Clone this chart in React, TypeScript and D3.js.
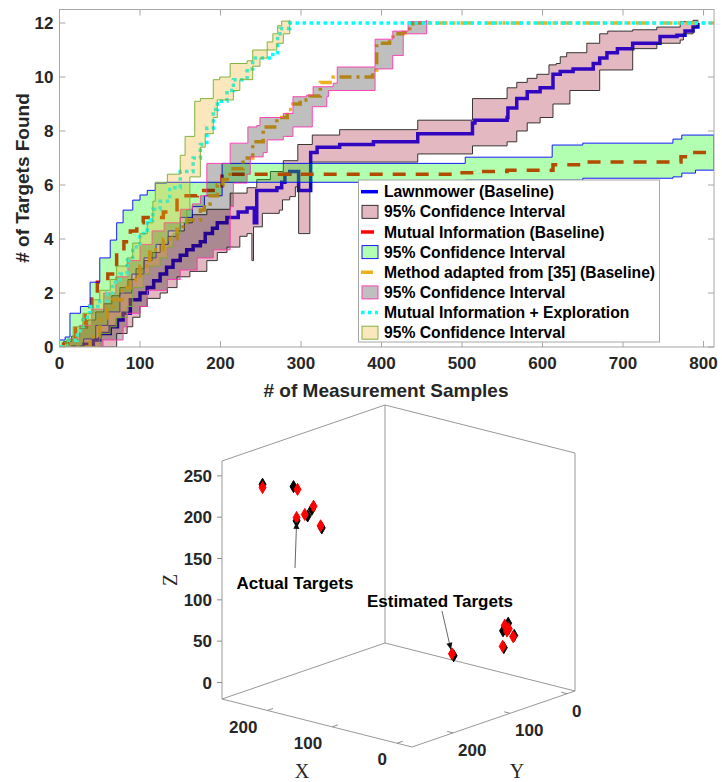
import { useEffect, useRef } from 'react';
import * as d3 from 'd3';

type Pt = [number, number];

// ---------- top panel: # of targets found vs. # of measurement samples ([sample, targets], step-after)
const lawnMean: Pt[] = [[0, 0], [19, 0], [30, 0.1], [42, 0.26], [50, 0.5], [63, 0.75], [72, 1.0], [79, 1.25], [88, 1.75], [100, 2.0], [109, 2.2], [117, 2.45], [125, 2.7], [133, 2.95], [141, 3.2], [150, 3.4], [158, 3.6], [166, 3.75], [175, 3.9], [181, 4.2], [190, 4.4], [196, 4.6], [208, 4.8], [222, 5.0], [233, 5.15], [242, 4.6], [245, 5.8], [270, 5.9], [276, 6.1], [280, 6.4], [286, 6.5], [297, 5.8], [312, 7.2], [320, 7.4], [348, 7.5], [390, 7.6], [445, 7.9], [513, 8.3], [516, 8.4], [556, 8.5], [557, 8.85], [568, 9.2], [581, 9.45], [597, 9.6], [613, 10.1], [622, 10.2], [638, 10.3], [663, 10.5], [671, 10.7], [680, 10.9], [693, 11.05], [712, 11.25], [746, 11.5], [767, 11.55], [777, 11.7], [787, 11.85], [793, 12]];
const lawnHi: Pt[] = [[0, 0], [5, 0.2], [15, 0.4], [25, 0.7], [35, 1.0], [45, 1.3], [55, 1.6], [65, 1.9], [75, 2.2], [85, 2.5], [95, 2.9], [105, 3.2], [115, 3.5], [125, 3.8], [135, 4.1], [145, 4.3], [155, 4.6], [165, 4.9], [183, 5.1], [212, 5.7], [233, 5.9], [245, 6.2], [262, 6.5], [278, 6.9], [296, 7.5], [314, 7.85], [348, 8.05], [445, 8.4], [513, 9.2], [556, 9.6], [568, 9.8], [581, 9.95], [593, 10.1], [608, 10.45], [617, 10.5], [622, 10.75], [630, 10.9], [655, 11.25], [671, 11.6], [681, 11.7], [712, 11.75], [742, 11.85], [771, 12.05], [787, 12.1], [793, 12.1]];
const lawnLo: Pt[] = [[0, 0], [65, 0], [71, 0.5], [84, 0.75], [91, 1.1], [100, 1.5], [109, 1.8], [125, 2.0], [134, 2.2], [146, 2.6], [162, 2.8], [183, 3.2], [196, 3.5], [208, 3.7], [224, 4.1], [233, 4.2], [239, 3.2], [241, 4.45], [252, 4.95], [273, 5.07], [277, 5.45], [286, 5.57], [293, 5.93], [297, 4.2], [311, 6.85], [445, 7.15], [513, 7.45], [556, 7.6], [568, 8.0], [581, 8.3], [597, 8.5], [613, 9.0], [634, 9.5], [671, 10.26], [712, 11.05], [742, 11.25], [771, 11.37], [775, 11.6], [787, 11.85], [793, 12]];

const miMean: Pt[] = [[0, 0], [5, 0.1], [10, 0.3], [20, 0.8], [32, 1.5], [40, 2.0], [47, 2.4], [60, 2.7], [66, 2.9], [71, 3.5], [80, 3.9], [88, 4.3], [96, 4.6], [104, 4.8], [129, 5.0], [146, 5.6], [171, 5.8], [202, 6.4], [497, 6.45], [522, 6.5], [556, 6.55], [613, 6.75], [647, 6.85], [772, 7.05], [787, 7.2], [813, 7.2]];
const miHi: Pt[] = [[0, 0.26], [7, 0.37], [13, 1.25], [26, 1.5], [38, 2.4], [50, 3.3], [63, 3.96], [71, 4.6], [79, 5.07], [91, 5.44], [100, 5.63], [109, 5.8], [119, 6.07], [133, 6.1], [202, 6.8], [504, 7.03], [612, 7.48], [650, 7.55], [762, 7.7], [773, 7.85], [813, 7.85]];
const miLo: Pt[] = [[0, 0], [20, 0], [30, 0.3], [45, 0.8], [60, 1.3], [75, 2.0], [90, 2.7], [105, 3.3], [120, 3.8], [135, 4.3], [150, 4.8], [165, 5.2], [180, 5.6], [202, 6.1], [504, 6.18], [650, 6.25], [762, 6.3], [773, 6.44], [790, 6.55], [813, 6.55]];

const adaptMean: Pt[] = [[0, 0], [25, 0], [38, 0.37], [50, 1.0], [59, 1.5], [66, 1.75], [78, 2.2], [88, 2.5], [100, 3.0], [112, 3.6], [129, 4.0], [146, 4.45], [158, 4.7], [175, 5.07], [180, 5.3], [187, 5.6], [196, 6.0], [203, 6.2], [212, 6.6], [228, 7.0], [240, 7.6], [253, 8.15], [270, 8.5], [283, 8.8], [290, 9.0], [299, 9.15], [311, 9.3], [324, 9.8], [340, 10.0], [389, 10.26], [394, 11.25], [410, 11.3], [414, 11.6], [427, 11.65], [435, 11.85], [439, 12], [813, 12]];
const adaptHi: Pt[] = [[0, 0], [10, 0.3], [25, 0.8], [40, 1.4], [55, 2.0], [70, 2.6], [85, 3.2], [100, 3.8], [115, 4.3], [130, 4.6], [150, 5.1], [165, 5.3], [175, 5.6], [183, 6.8], [212, 7.55], [234, 8.15], [245, 8.2], [249, 8.5], [278, 8.65], [290, 9.27], [307, 9.33], [315, 9.64], [340, 9.77], [345, 10.37], [392, 11.4], [414, 11.7], [433, 12.05], [456, 12.1]];
const adaptLo: Pt[] = [[0, 0], [54, 0.26], [79, 0.75], [84, 1.25], [100, 1.5], [109, 2.1], [134, 2.5], [150, 2.85], [171, 3.3], [191, 3.6], [212, 5.2], [216, 6.07], [233, 6.4], [237, 7.04], [253, 7.2], [258, 7.67], [278, 7.8], [290, 8.15], [314, 8.9], [332, 9.27], [334, 9.5], [392, 10.3], [414, 10.8], [427, 11.6], [456, 12]];

const mieMean: Pt[] = [[0, 0], [9, 0.25], [22, 0.6], [29, 1.1], [38, 1.5], [50, 1.7], [59, 2.0], [66, 2.4], [75, 2.7], [84, 3.2], [91, 3.7], [100, 4.2], [109, 4.7], [116, 5.1], [125, 5.4], [137, 5.9], [150, 6.5], [166, 7.0], [175, 7.5], [183, 8.1], [191, 8.8], [196, 9.1], [208, 9.5], [216, 9.9], [233, 10.3], [240, 10.7], [265, 10.9], [271, 11.6], [274, 11.8], [286, 12], [813, 12]];
const mieHi: Pt[] = [[0, 0], [9, 0.26], [17, 0.75], [29, 1.25], [42, 1.75], [50, 2.1], [63, 2.5], [71, 3.0], [84, 3.3], [91, 3.85], [100, 4.2], [109, 4.6], [116, 5.4], [119, 6.1], [134, 6.4], [150, 7.1], [156, 7.8], [168, 9.1], [175, 9.2], [191, 9.9], [199, 10.0], [212, 10.5], [233, 10.6], [240, 11.0], [258, 11.3], [265, 11.6], [271, 11.9], [276, 12.07], [286, 12.1]];
const mieLo: Pt[] = [[0, 0], [22, 0], [50, 0.5], [63, 0.75], [71, 1.1], [84, 1.5], [91, 2.2], [104, 2.7], [112, 3.0], [125, 3.3], [134, 3.7], [141, 4.2], [150, 4.6], [158, 5.07], [162, 6.3], [175, 7.4], [181, 7.9], [191, 8.5], [196, 9.15], [216, 9.5], [224, 9.9], [240, 10.4], [249, 10.7], [258, 11.0], [270, 11.25], [278, 11.6], [286, 12]];

const xTicks = [0, 100, 200, 300, 400, 500, 600, 700, 800];
const yTicks = [0, 2, 4, 6, 8, 10, 12];
const legendLabels = [
  'Lawnmower (Baseline)',
  '95% Confidence Interval',
  'Mutual Information (Baseline)',
  '95% Confidence Interval',
  'Method adapted from [35] (Baseline)',
  '95% Confidence Interval',
  'Mutual Information + Exploration',
  '95% Confidence Interval',
];

// ---------- bottom panel: target positions in 3D
const actualX = [240, 230, 220, 210, 200, 190, 20, 15, 15, 10, 20, 15];
const actualY = [235, 192, 198, 190, 194, 188, 150, 60, 69, 55, 62, 64];
const actualZ = [237, 226, 188, 194, 205, 183, 53, 72, 65, 57, 42, 69];
const estX = [240, 230, 220, 210, 200, 190, 20, 20, 15, 15, 10, 15];
const estY = [235, 185, 198, 195, 191, 190, 153, 64, 66, 59, 57, 62];
const estZ = [233, 221, 192, 197, 208, 186, 56, 44, 71, 65, 56, 63];
const xyTicks3d = [0, 100, 200];
const zTicks3d = [0, 50, 100, 150, 200, 250];

const SANS = "'Liberation Sans', Arial, sans-serif";
const SERIF = "'Liberation Serif', 'Times New Roman', serif";
const TXT = '#262626';
const AX = '#a6a6a6';

// turn step points into polygon corners
function stepCorners( pts: Pt[] ): Pt[] {
  const out: Pt[] = [ pts[ 0 ] ];
  for ( let i = 1; i < pts.length; i++ ) {
    out.push( [ pts[ i ][ 0 ], pts[ i - 1 ][ 1 ] ] );
    out.push( pts[ i ] );
  }
  return out;
}

export default function App() {
  const svgRef = useRef<SVGSVGElement>( null );

  useEffect( () => {
    if ( !svgRef.current ) return;
    const svg = d3.select( svgRef.current );
    svg.selectAll( '*' ).remove();

    // ================= top chart =================
    const x = d3.scaleLinear().domain( [ 0, 813 ] ).range( [ 59.5, 714 ] );
    const y = d3.scaleLinear().domain( [ 0, 12.5 ] ).range( [ 347, 9.5 ] );

    svg.append( 'defs' ).append( 'clipPath' ).attr( 'id', 'plotClip' )
      .append( 'rect' ).attr( 'x', 59.5 ).attr( 'y', 9.5 ).attr( 'width', 654.5 ).attr( 'height', 337.5 );

    const lin = d3.line<Pt>().x( d => x( d[ 0 ] ) ).y( d => y( d[ 1 ] ) );
    const step = d3.line<Pt>().x( d => x( d[ 0 ] ) ).y( d => y( d[ 1 ] ) ).curve( d3.curveStepAfter );

    const series = [
      { mean: lawnMean, hi: lawnHi, lo: lawnLo, stroke: '#0000ff', dash: 'none', fill: '#a2142f', fo: 0.3, edge: '#222222' },
      { mean: miMean, hi: miHi, lo: miLo, stroke: '#ff0000', dash: '13,10', fill: '#00ff00', fo: 0.3, edge: '#0000ff' },
      { mean: adaptMean, hi: adaptHi, lo: adaptLo, stroke: '#edb120', dash: '12,5,3,5', fill: '#000000', fo: 0.25, edge: '#ff33b0' },
      { mean: mieMean, hi: mieHi, lo: mieLo, stroke: '#00ffff', dash: '3.5,3.5', fill: '#edb120', fo: 0.3, edge: '#77ac30' },
    ];

    const plot = svg.append( 'g' ).attr( 'clip-path', 'url(#plotClip)' );
    series.forEach( s => {
      plot.append( 'path' )
        .attr( 'd', step( s.mean ) )
        .attr( 'fill', 'none' )
        .attr( 'stroke', s.stroke )
        .attr( 'stroke-width', 3.5 )
        .attr( 'stroke-dasharray', s.dash );
      plot.append( 'path' )
        .attr( 'd', lin( [ ...stepCorners( s.hi ), ...stepCorners( s.lo ).reverse() ] ) + 'Z' )
        .attr( 'fill', s.fill )
        .attr( 'fill-opacity', s.fo )
        .attr( 'stroke', s.edge )
        .attr( 'stroke-width', 0.9 );
    } );

    // axes box + ticks
    const ax = svg.append( 'g' );
    ax.append( 'rect' ).attr( 'x', 59.5 ).attr( 'y', 9.5 ).attr( 'width', 654.5 ).attr( 'height', 337.5 )
      .attr( 'fill', 'none' ).attr( 'stroke', AX ).attr( 'stroke-width', 1 );
    xTicks.forEach( t => {
      ax.append( 'line' ).attr( 'x1', x( t ) ).attr( 'x2', x( t ) ).attr( 'y1', 347 ).attr( 'y2', 341 ).attr( 'stroke', AX );
      ax.append( 'line' ).attr( 'x1', x( t ) ).attr( 'x2', x( t ) ).attr( 'y1', 9.5 ).attr( 'y2', 15.5 ).attr( 'stroke', AX );
      ax.append( 'text' ).attr( 'x', x( t ) ).attr( 'y', 369 ).attr( 'text-anchor', 'middle' )
        .style( 'font', `bold 17px ${ SANS }` ).attr( 'fill', TXT ).text( t );
    } );
    yTicks.forEach( t => {
      ax.append( 'line' ).attr( 'x1', 59.5 ).attr( 'x2', 65.5 ).attr( 'y1', y( t ) ).attr( 'y2', y( t ) ).attr( 'stroke', AX );
      ax.append( 'line' ).attr( 'x1', 714 ).attr( 'x2', 708 ).attr( 'y1', y( t ) ).attr( 'y2', y( t ) ).attr( 'stroke', AX );
      ax.append( 'text' ).attr( 'x', 53.5 ).attr( 'y', y( t ) ).attr( 'dy', '0.36em' ).attr( 'text-anchor', 'end' )
        .style( 'font', `bold 17px ${ SANS }` ).attr( 'fill', TXT ).text( t );
    } );
    ax.append( 'text' ).attr( 'x', 386 ).attr( 'y', 397 ).attr( 'text-anchor', 'middle' )
      .style( 'font', `bold 19px ${ SANS }` ).attr( 'fill', TXT ).text( '# of Measurement Samples' );
    ax.append( 'text' ).attr( 'transform', 'translate(29,178) rotate(-90)' ).attr( 'text-anchor', 'middle' )
      .style( 'font', `bold 19px ${ SANS }` ).attr( 'fill', TXT ).text( '# of Targets Found' );

    // legend
    const lg = svg.append( 'g' );
    lg.append( 'rect' ).attr( 'x', 358.5 ).attr( 'y', 180 ).attr( 'width', 301 ).attr( 'height', 162 )
      .attr( 'fill', '#fff' ).attr( 'stroke', AX );
    legendLabels.forEach( ( label, i ) => {
      const cy = 191.7 + i * 20.14;
      const s = series[ Math.floor( i / 2 ) ];
      if ( i % 2 === 0 ) {
        lg.append( 'line' ).attr( 'x1', 361 ).attr( 'x2', 378 ).attr( 'y1', cy ).attr( 'y2', cy )
          .attr( 'stroke', s.stroke ).attr( 'stroke-width', 3.5 ).attr( 'stroke-dasharray', s.dash );
      } else {
        lg.append( 'rect' ).attr( 'x', 362 ).attr( 'y', cy - 6.5 ).attr( 'width', 16 ).attr( 'height', 13 )
          .attr( 'fill', s.fill ).attr( 'fill-opacity', s.fo ).attr( 'stroke', s.edge ).attr( 'stroke-width', 0.9 );
      }
      lg.append( 'text' ).attr( 'x', 384 ).attr( 'y', cy ).attr( 'dy', '0.36em' )
        .style( 'font', `bold 15.7px ${ SANS }` ).attr( 'fill', '#000' ).text( label );
    } );

    // ================= bottom 3D chart =================
    const sx = d3.scaleLinear().domain( [ -23, 270 ] ).range( [ 0, 1 ] );
    const sy = d3.scaleLinear().domain( [ -14, 272 ] ).range( [ 0, 1 ] );
    const sz = d3.scaleLinear().domain( [ -20, 268 ] ).range( [ 0, 1 ] );
    const origin: Pt = [ 575, 691 ];
    const vX: Pt = [ -190, -48 ];
    const vY: Pt = [ -163, 56 ];
    const vZ: Pt = [ 0, -238 ];
    const proj = ( X: number, Y: number, Z: number ): Pt => {
      const a = sx( X ), b = sy( Y ), c = sz( Z );
      return [ origin[ 0 ] + a * vX[ 0 ] + b * vY[ 0 ] + c * vZ[ 0 ], origin[ 1 ] + a * vX[ 1 ] + b * vY[ 1 ] + c * vZ[ 1 ] ];
    };
    const [ x0, x1 ] = sx.domain();
    const [ y0, y1 ] = sy.domain();
    const [ z0, z1 ] = sz.domain();
    const edges: [ number[], number[] ][] = [
      [ [ x1, y1, z0 ], [ x1, y1, z1 ] ],
      [ [ x1, y0, z0 ], [ x1, y0, z1 ] ],
      [ [ x0, y0, z0 ], [ x0, y0, z1 ] ],
      [ [ x1, y1, z1 ], [ x1, y0, z1 ] ],
      [ [ x1, y0, z1 ], [ x0, y0, z1 ] ],
      [ [ x1, y1, z0 ], [ x1, y0, z0 ] ],
      [ [ x1, y0, z0 ], [ x0, y0, z0 ] ],
      [ [ x1, y1, z0 ], [ x0, y1, z0 ] ],
      [ [ x0, y1, z0 ], [ x0, y0, z0 ] ],
    ];
    const g3 = svg.append( 'g' );
    edges.forEach( ( [ p, q ] ) => {
      const a = proj( p[ 0 ], p[ 1 ], p[ 2 ] ), b = proj( q[ 0 ], q[ 1 ], q[ 2 ] );
      g3.append( 'line' ).attr( 'x1', a[ 0 ] ).attr( 'y1', a[ 1 ] ).attr( 'x2', b[ 0 ] ).attr( 'y2', b[ 1 ] )
        .attr( 'stroke', '#8c8c8c' ).attr( 'stroke-width', 0.9 );
    } );

    // X ticks along front-left edge
    xyTicks3d.forEach( t => {
      const p = proj( t, y1, z0 );
      g3.append( 'line' ).attr( 'x1', p[ 0 ] ).attr( 'y1', p[ 1 ] ).attr( 'x2', p[ 0 ] + 5.7 ).attr( 'y2', p[ 1 ] - 2 )
        .attr( 'stroke', '#8c8c8c' );
      g3.append( 'text' ).attr( 'x', p[ 0 ] - 10 ).attr( 'y', p[ 1 ] + 16 ).attr( 'dy', '0.36em' ).attr( 'text-anchor', 'end' )
        .style( 'font', `bold 17px ${ SANS }` ).attr( 'fill', TXT ).text( t );
    } );
    // Y ticks along front-right edge
    xyTicks3d.forEach( t => {
      const p = proj( x0, t, z0 );
      g3.append( 'line' ).attr( 'x1', p[ 0 ] ).attr( 'y1', p[ 1 ] ).attr( 'x2', p[ 0 ] - 5.8 ).attr( 'y2', p[ 1 ] - 1.5 )
        .attr( 'stroke', '#8c8c8c' );
      g3.append( 'text' ).attr( 'x', p[ 0 ] + 5 ).attr( 'y', p[ 1 ] + 17 ).attr( 'dy', '0.36em' ).attr( 'text-anchor', 'start' )
        .style( 'font', `bold 17px ${ SANS }` ).attr( 'fill', TXT ).text( t );
    } );
    // Z ticks on left vertical
    zTicks3d.forEach( t => {
      const p = proj( x1, y1, t );
      g3.append( 'line' ).attr( 'x1', p[ 0 ] ).attr( 'y1', p[ 1 ] ).attr( 'x2', p[ 0 ] - 5 ).attr( 'y2', p[ 1 ] )
        .attr( 'stroke', '#8c8c8c' );
      g3.append( 'text' ).attr( 'x', p[ 0 ] - 10 ).attr( 'y', p[ 1 ] ).attr( 'dy', '0.36em' ).attr( 'text-anchor', 'end' )
        .style( 'font', `bold 17px ${ SANS }` ).attr( 'fill', TXT ).text( t );
    } );
    g3.append( 'text' ).attr( 'x', 302 ).attr( 'y', 778 ).attr( 'text-anchor', 'middle' )
      .style( 'font', `20px ${ SERIF }` ).attr( 'fill', TXT ).text( 'X' );
    g3.append( 'text' ).attr( 'x', 517 ).attr( 'y', 778 ).attr( 'text-anchor', 'middle' )
      .style( 'font', `20px ${ SERIF }` ).attr( 'fill', TXT ).text( 'Y' );
    g3.append( 'text' ).attr( 'transform', 'translate(170,580) rotate(-90)' ).attr( 'dy', '0.36em' ).attr( 'text-anchor', 'middle' )
      .style( 'font', `20px ${ SERIF }` ).attr( 'fill', TXT ).text( 'Z' );

    // markers
    const diamond = d3.symbol().type( d3.symbolDiamond ).size( 42 )();
    const drawMarkers = ( X: number[], Y: number[], Z: number[], color: string ) => {
      X.forEach( ( xv, i ) => {
        const p = proj( xv, Y[ i ], Z[ i ] );
        g3.append( 'path' ).attr( 'd', diamond ).attr( 'transform', `translate(${ p[ 0 ] },${ p[ 1 ] })` )
          .attr( 'fill', color ).attr( 'stroke', color ).attr( 'stroke-width', 1 );
      } );
    };
    drawMarkers( actualX, actualY, actualZ, '#000000' );
    drawMarkers( estX, estY, estZ, '#ff0000' );

    // annotations
    const arrow = ( from: Pt, to: Pt ) => {
      g3.append( 'line' ).attr( 'x1', from[ 0 ] ).attr( 'y1', from[ 1 ] ).attr( 'x2', to[ 0 ] ).attr( 'y2', to[ 1 ] )
        .attr( 'stroke', '#555' ).attr( 'stroke-width', 0.9 );
      const ang = Math.atan2( to[ 1 ] - from[ 1 ], to[ 0 ] - from[ 0 ] );
      const L = 7, Wd = 3;
      const bx = to[ 0 ] - L * Math.cos( ang ), by = to[ 1 ] - L * Math.sin( ang );
      g3.append( 'path' )
        .attr( 'd', `M${ to[ 0 ] },${ to[ 1 ] }L${ bx - Wd * Math.sin( ang ) },${ by + Wd * Math.cos( ang ) }L${ bx + Wd * Math.sin( ang ) },${ by - Wd * Math.cos( ang ) }Z` )
        .attr( 'fill', '#111' );
    };
    const pA = proj( actualX[ 2 ], actualY[ 2 ], actualZ[ 2 ] );
    arrow( [ 295, 568 ], [ pA[ 0 ], pA[ 1 ] + 1 ] );
    const pE = proj( estX[ 6 ], estY[ 6 ], estZ[ 6 ] );
    arrow( [ 442, 611 ], [ pE[ 0 ] - 1, pE[ 1 ] - 4 ] );
    g3.append( 'text' ).attr( 'x', 295 ).attr( 'y', 583 ).attr( 'dy', '0.36em' ).attr( 'text-anchor', 'middle' )
      .style( 'font', `bold 17px ${ SANS }` ).attr( 'fill', '#000' ).text( 'Actual Targets' );
    g3.append( 'text' ).attr( 'x', 440 ).attr( 'y', 601 ).attr( 'dy', '0.36em' ).attr( 'text-anchor', 'middle' )
      .style( 'font', `bold 17px ${ SANS }` ).attr( 'fill', '#000' ).text( 'Estimated Targets' );
  }, [] );

  return (
    <svg
      ref={ svgRef }
      width={ 722 }
      height={ 782 }
      style={ { position: 'absolute', left: 0, top: 0, background: '#fff' } }
    />
  );
}
